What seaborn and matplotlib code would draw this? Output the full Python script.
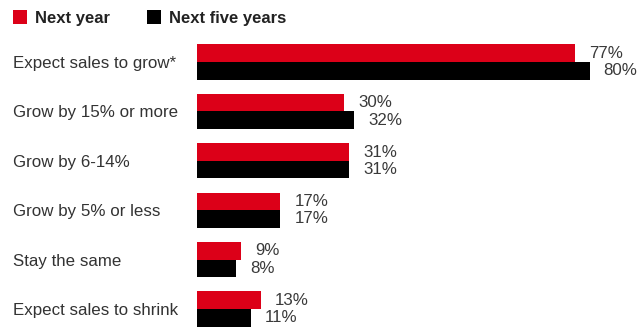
import matplotlib
matplotlib.use("Agg")
import matplotlib.pyplot as plt
import seaborn as sns
import pandas as pd
from matplotlib.patches import Patch

categories = ["Expect sales to grow*", "Grow by 15% or more", "Grow by 6-14%",
              "Grow by 5% or less", "Stay the same", "Expect sales to shrink"]
series_names = ["Next year", "Next five years"]
next_year = [77, 30, 31, 17, 9, 13]
next_five = [80, 32, 31, 17, 8, 11]
colors = ["#dc0018", "#000000"]

df = pd.DataFrame({
    "category": categories * 2,
    "series": [series_names[0]] * len(categories) + [series_names[1]] * len(categories),
    "value": next_year + next_five,
})

sns.set_theme(style="white")
plt.rcParams["font.family"] = ["Liberation Sans", "DejaVu Sans"]

W, H = 638, 328
fig = plt.figure(figsize=(W / 100, H / 100), dpi=100)
ax = fig.add_axes([197 / W, 0, 1 - 197 / W, 1])

sns.barplot(data=df, y="category", x="value", hue="series", order=categories,
            hue_order=series_names, palette=colors, width=0.71, orient="h",
            saturation=1, ax=ax, legend=False, linewidth=0, edgecolor="none")

for c in ax.containers:
    ax.bar_label(c, fmt="%.0f%%", padding=10, fontsize=12.2, color="#3a3a3a")

ax.set_xlim(0, (W - 197) / 4.91)
ax.set_ylim(5 + 19 / 49.4, -62 / 49.4)
ax.set_xlabel("")
ax.set_ylabel("")
ax.set_xticks([])
for s in ax.spines.values():
    s.set_visible(False)
ax.tick_params(axis="y", length=0, pad=184 * 0.72)
for lbl in ax.get_yticklabels():
    lbl.set_ha("left")
    lbl.set_fontsize(12.2)
    lbl.set_color("#333333")

handles = [Patch(facecolor=colors[0], edgecolor="none"), Patch(facecolor=colors[1], edgecolor="none")]
leg = fig.legend(handles, series_names, loc="center left", bbox_to_anchor=(13 / W, 1 - 18 / H),
                 ncol=2, frameon=False, borderaxespad=0, borderpad=0,
                 handlelength=0.84, handleheight=0.84, handletextpad=0.5,
                 columnspacing=2.2, prop={"weight": "bold", "size": 12})
for t in leg.get_texts():
    t.set_color("#222222")

fig.savefig("out.png", dpi=100)
